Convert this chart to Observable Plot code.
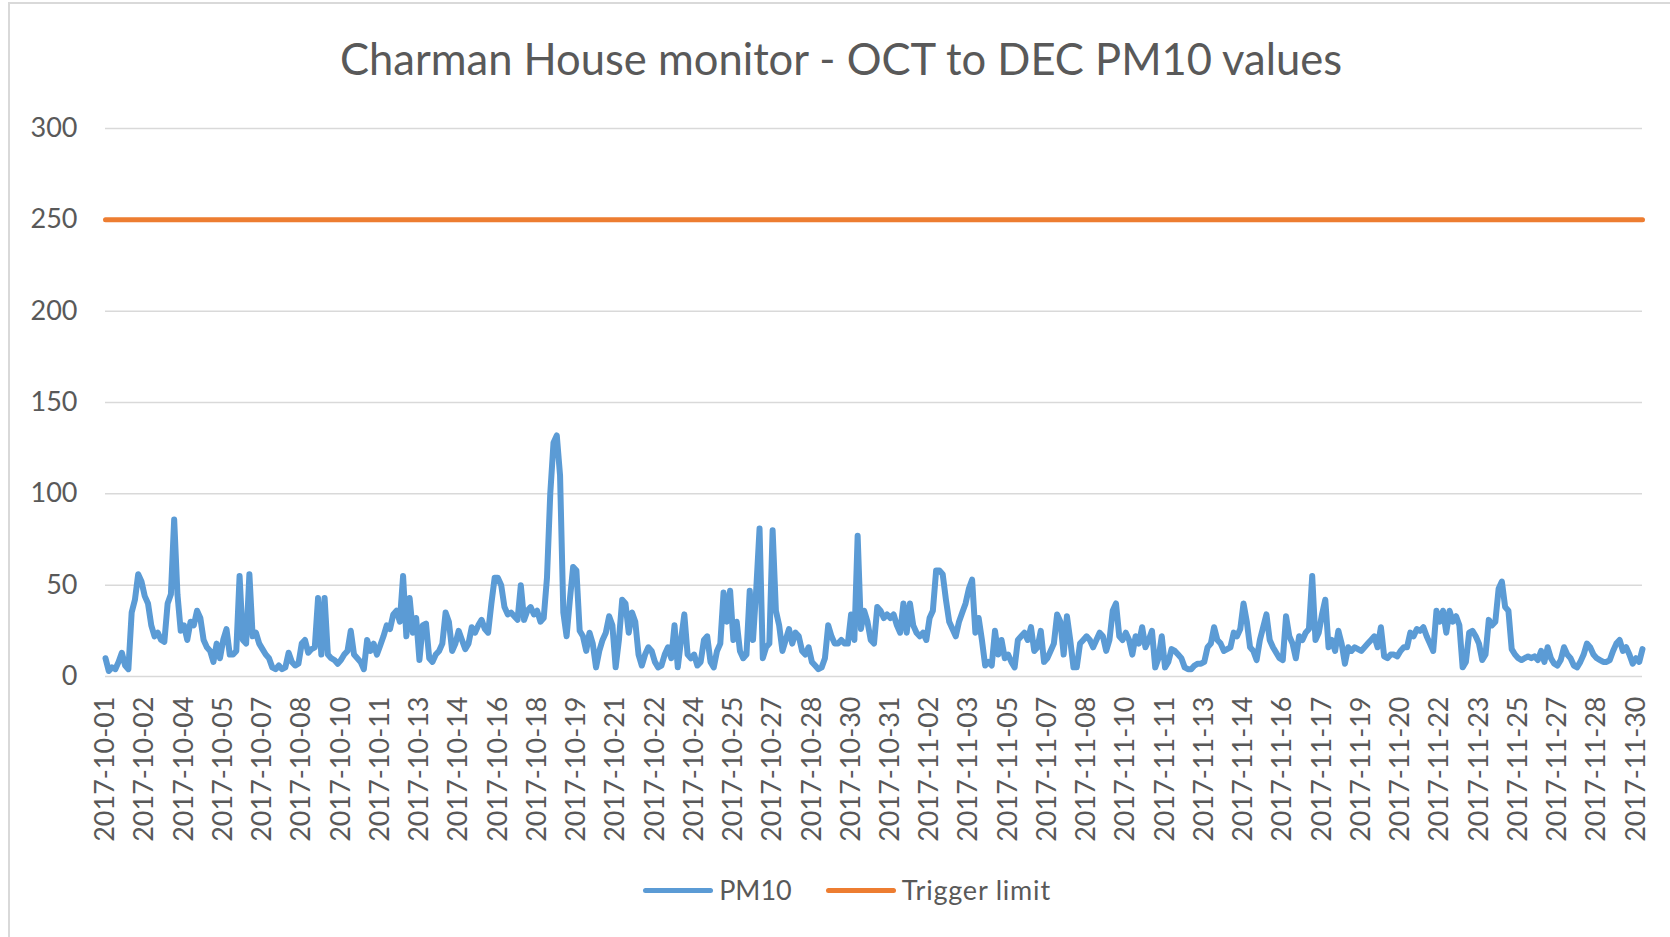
<!DOCTYPE html>
<html><head><meta charset="utf-8">
<script src="https://cdn.jsdelivr.net/npm/d3@7"></script>
<script src="https://cdn.jsdelivr.net/npm/@observablehq/plot@0.6"></script>
<style>
html,body{margin:0;padding:0;background:#fff;width:1670px;height:937px;overflow:hidden;}
body{position:relative;font-family:Lato,"Open Sans",sans-serif;color:#595959;}
#frame{position:absolute;left:8px;top:2px;width:1720px;height:1000px;border:2px solid #d9d9d9;box-sizing:border-box;}
#title{position:absolute;left:0;width:1682px;top:28px;text-align:center;font-size:43.5px;line-height:60px;white-space:nowrap;}
#chart{position:absolute;left:0;top:100px;}
#legend{position:absolute;top:868px;left:0;width:1694px;display:flex;justify-content:center;align-items:center;font-size:27px;line-height:44px;}
.item{display:flex;align-items:center;margin:0 17px;}
.sw{width:70px;height:5px;border-radius:3px;margin-right:6px;}
</style></head>
<body>
<div id="frame"></div>
<div id="title">Charman House monitor - OCT to DEC PM10 values</div>
<div id="chart"></div>
<div id="legend"></div>
<script>
// Category labels shown on the x axis (one every 12 readings)
const xLabels = ["2017-10-01","2017-10-02","2017-10-04","2017-10-05","2017-10-07","2017-10-08","2017-10-10","2017-10-11","2017-10-13","2017-10-14","2017-10-16","2017-10-18","2017-10-19","2017-10-21","2017-10-22","2017-10-24","2017-10-25","2017-10-27","2017-10-28","2017-10-30","2017-10-31","2017-11-02","2017-11-03","2017-11-05","2017-11-07","2017-11-08","2017-11-10","2017-11-11","2017-11-13","2017-11-14","2017-11-16","2017-11-17","2017-11-19","2017-11-20","2017-11-22","2017-11-23","2017-11-25","2017-11-27","2017-11-28","2017-11-30"];
const labelEvery = 12;
const yTicks = [0, 50, 100, 150, 200, 250, 300];
const triggerLimit = 250;
const seriesNames = ["PM10", "Trigger limit"];
const seriesColors = ["#5b9bd5", "#ed7d31"];
// PM10 readings (estimated from the chart), 12 per label interval
const pm10 = [
10,3,5,4,8,13,6,4,35,42,56,52,
44,40,28,22,24,20,19,40,45,86,45,25,
28,20,30,28,36,32,20,16,14,8,18,10,
20,26,12,12,14,55,20,18,56,22,24,18,
15,12,10,5,4,6,4,5,13,8,6,7,
18,20,13,15,16,43,12,43,12,10,9,7,
9,12,14,25,12,10,8,4,20,14,18,12,
17,22,28,26,34,36,30,55,22,43,24,32,
9,28,29,10,8,12,14,18,35,30,14,18,
25,20,15,18,27,24,28,31,26,24,40,54,
54,50,38,34,35,33,31,50,31,36,38,34,
36,30,32,54,100,128,132,110,35,22,42,60,
58,25,22,14,24,18,5,14,20,24,33,28,
5,20,42,40,24,35,30,12,6,12,16,14,
8,5,6,12,16,10,28,5,20,34,12,10,
12,6,8,20,22,8,5,14,18,46,30,47,
20,30,14,10,12,47,20,48,81,10,16,18,
80,36,28,14,20,26,18,24,22,14,12,16,
8,6,4,5,10,28,22,18,18,20,18,18,
34,20,77,26,36,30,20,18,38,36,32,34,
32,34,28,24,40,24,40,28,24,22,24,20,
32,36,58,58,56,42,30,26,22,30,35,40,
48,53,24,32,20,6,8,6,25,12,20,10,
12,8,5,20,22,24,20,27,14,16,25,8,
10,14,18,34,30,12,33,20,5,5,18,20,
22,20,16,20,24,22,14,20,36,40,22,20,
24,20,12,22,18,27,16,20,25,5,10,22,
5,8,15,14,12,10,5,4,4,6,7,7,
8,16,18,27,20,18,14,15,16,24,22,26,
40,30,16,14,9,20,27,34,20,16,13,10,
9,33,22,18,10,22,20,24,26,55,20,24,
34,42,16,20,14,25,18,7,16,14,16,15,
14,16,18,20,22,16,27,11,10,12,12,11,
14,16,16,24,22,26,25,27,22,18,14,36,
30,36,24,36,30,33,28,5,8,24,25,22,
18,9,12,31,28,30,48,52,38,36,15,12,
10,9,10,11,10,11,9,14,8,16,10,7,
6,9,16,12,10,6,5,8,12,18,16,12,
10,9,8,8,9,14,18,20,14,16,12,7,
10,8,15
];

const rows = pm10.map((v, i) => ({i, v}));
const chart = Plot.plot({
  width: 1670,
  height: 750,
  marginLeft: 105,
  marginRight: 28,
  marginTop: 28,
  marginBottom: 174,
  x: {type: "linear", domain: [0, pm10.length - 1]},
  y: {domain: [0, 300]},
  style: {fontFamily: "Lato, 'Open Sans', sans-serif", fontSize: "27px", color: "#595959", background: "transparent"},
  marks: [
    Plot.ruleY(yTicks, {stroke: "#d9d9d9", strokeWidth: 1.5, strokeOpacity: 1}),
    Plot.axisY({ticks: yTicks, tickSize: 0, tickPadding: 28, label: null, fontSize: 27}),
    Plot.axisX({ticks: xLabels.map((_, k) => k * labelEvery), tickFormat: d => xLabels[Math.round(d / labelEvery)], tickRotate: -90, tickSize: 0, tickPadding: 20, label: null, fontSize: 27}),
    Plot.lineY(rows, {x: "i", y: "v", stroke: seriesColors[0], strokeWidth: 6, strokeLinejoin: "round", strokeLinecap: "round"}),
    Plot.lineY(rows, {x: "i", y: () => triggerLimit, stroke: seriesColors[1], strokeWidth: 5})
  ]
});
document.getElementById("chart").appendChild(chart);

const legend = document.getElementById("legend");
seriesNames.forEach((name, k) => {
  const item = document.createElement("div");
  item.className = "item";
  const sw = document.createElement("div");
  sw.className = "sw";
  sw.style.background = seriesColors[k];
  const t = document.createElement("span");
  t.textContent = name;
  if (k === 1) t.style.letterSpacing = "0.8px";
  item.appendChild(sw);
  item.appendChild(t);
  legend.appendChild(item);
});
</script>
</body></html>
